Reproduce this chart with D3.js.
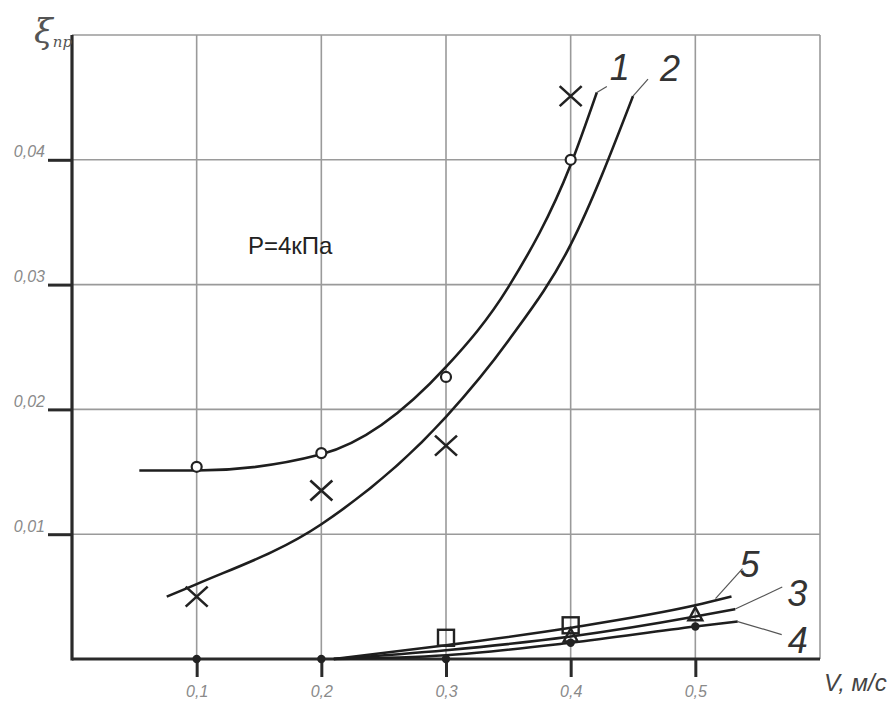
<!DOCTYPE html>
<html>
<head>
<meta charset="utf-8">
<script src="https://cdn.jsdelivr.net/npm/d3@7"></script>
<style>
body{margin:0;background:#fff;}
</style>
</head>
<body>
<div id="chart"></div>
<script>
// curves (smooth fits), P=4kPa
var curve1=[[0.054,0.0151],[0.1,0.0151],[0.2,0.0164],[0.3,0.0234],[0.35,0.0298],[0.4,0.0396],[0.421,0.0454]];
var curve2=[[0.076,0.0050],[0.1,0.0060],[0.2,0.0108],[0.3,0.0194],[0.35,0.0255],[0.4,0.0332],[0.45,0.0451]];
var curve3=[[0.21,0],[0.3,0.0007],[0.4,0.0018],[0.5,0.0034],[0.532,0.0040]];
var curve4=[[0.21,0],[0.3,0.0003],[0.4,0.0013],[0.5,0.0026],[0.534,0.0030]];
var curve5=[[0.21,0],[0.3,0.0011],[0.4,0.0025],[0.5,0.0043],[0.529,0.0050]];
// measured points
var pts1=[[0.1,0.0154],[0.2,0.0165],[0.3,0.0226],[0.4,0.0400]];      // open circles
var pts2=[[0.1,0.0050],[0.2,0.0135],[0.3,0.0171],[0.4,0.0451]];      // crosses
var pts3=[[0.4,0.0018],[0.5,0.0035]];                                // triangles
var pts4=[[0.1,0],[0.2,0],[0.3,0],[0.4,0.0013],[0.5,0.0026]];         // filled dots
var pts5=[[0.3,0.0017],[0.4,0.0027]];                                // squares
var xTicks=[0.1,0.2,0.3,0.4,0.5];
var yTicks=[0.01,0.02,0.03,0.04];
var xLabels=["0,1","0,2","0,3","0,4","0,5"];
var yLabels=["0,01","0,02","0,03","0,04"];

var margin={top:35,right:76,bottom:42,left:72},
w=896-margin.left-margin.right,
h=701-margin.top-margin.bottom;

var svg=d3.select("#chart").append("svg")
.attr("width",896).attr("height",701)
.append("g")
.attr("transform",`translate(${margin.left},${margin.top})`);

var x=d3.scaleLinear().domain([0,0.6]).range([0,w]);
var y=d3.scaleLinear().domain([0,0.05]).range([h,0]);

//grid
svg.append("g").selectAll("line").data(xTicks.concat([0.6])).enter().append("line")
.attr("x1",d=>x(d)).attr("x2",d=>x(d)).attr("y1",0).attr("y2",h)
.attr("stroke","#9a9a9a").attr("stroke-width",1.6);
svg.append("g").selectAll("line").data(yTicks.concat([0.05])).enter().append("line")
.attr("y1",d=>y(d)).attr("y2",d=>y(d)).attr("x1",0).attr("x2",w)
.attr("stroke","#9a9a9a").attr("stroke-width",1.6);

//axes
var xAxis=svg.append("g").attr("transform","translate(0,"+h+")")
.call(d3.axisBottom(x).tickValues(xTicks).tickSize(18).tickFormat((d,i)=>xLabels[i]));
var yAxis=svg.append("g")
.call(d3.axisLeft(y).tickValues(yTicks).tickSize(24).tickFormat((d,i)=>yLabels[i]));
[xAxis,yAxis].forEach(function(a){
a.select(".domain").remove();
a.selectAll(".tick line").attr("stroke","#2a2a2a").attr("stroke-width",3);
a.selectAll("text").attr("fill","#8a8a8a").attr("font-size",null)
.style("font-family","Liberation Sans Narrow, Liberation Sans")
.style("font-style","italic").style("font-size","16px");
});
svg.append("line").attr("x1",0).attr("x2",w).attr("y1",h).attr("y2",h)
.attr("stroke","#2a2a2a").attr("stroke-width",3.2);
svg.append("line").attr("x1",0).attr("x2",0).attr("y1",0).attr("y2",h+1.5)
.attr("stroke","#2a2a2a").attr("stroke-width",3.2);
xAxis.selectAll("text").attr("dy",null).attr("y",38);
yAxis.selectAll("text").attr("dy",null).attr("y",-3).attr("x",-27);

//curves
var line=d3.line().x(d=>x(d[0])).y(d=>y(d[1])).curve(d3.curveMonotoneX);
[curve1,curve2,curve3,curve4,curve5].forEach(function(c){
svg.append("path").datum(c).attr("d",line)
.attr("fill","none").attr("stroke","#1e1e1e").attr("stroke-width",2.6);
});

//markers
svg.selectAll(".c1").data(pts1).enter().append("circle")
.attr("cx",d=>x(d[0])).attr("cy",d=>y(d[1])).attr("r",5)
.attr("fill","#fff").attr("stroke","#222").attr("stroke-width",2.2);
svg.selectAll(".c2").data(pts2).enter().append("path")
.attr("transform",d=>`translate(${x(d[0])},${y(d[1])})`)
.attr("d","M-11,-10L11,10M-11,10L11,-10")
.attr("stroke","#222").attr("stroke-width",2.6).attr("fill","none");
svg.selectAll(".c5").data(pts5).enter().append("rect")
.attr("x",d=>x(d[0])-8).attr("y",d=>y(d[1])-8).attr("width",16).attr("height",16)
.attr("fill","none").attr("stroke","#222").attr("stroke-width",2.4);
svg.selectAll(".c3").data(pts3).enter().append("path")
.attr("transform",d=>`translate(${x(d[0])},${y(d[1])})`)
.attr("d","M0,-8L7,5L-7,5Z")
.attr("fill","none").attr("stroke","#222").attr("stroke-width",2.4);
svg.selectAll(".c4").data(pts4).enter().append("circle")
.attr("cx",d=>x(d[0])).attr("cy",d=>y(d[1])).attr("r",4.2)
.attr("fill","#222");

//curve labels with leader lines
var labels=[
{c:curve1,t:"1",lx:10,ly:-6,tx:23,ty:-22},
{c:curve2,t:"2",lx:15,ly:-17,tx:37,ty:-25},
{c:curve5,t:"5",lx:11,ly:-28,tx:18,ty:-29},
{c:curve3,t:"3",lx:47,ly:-22,tx:62,ty:-13},
{c:curve4,t:"4",lx:44,ly:13,tx:60,ty:22}
];
labels.forEach(function(l){
var e=l.c[l.c.length-1],ex=x(e[0]),ey=y(e[1]);
svg.append("line").attr("x1",ex-(l.t=="5"?16:0)).attr("y1",ey+(l.t=="5"?2:0))
.attr("x2",ex+l.lx).attr("y2",ey+l.ly)
.attr("stroke","#555").attr("stroke-width",1.2);
svg.append("text").attr("x",ex+l.tx).attr("y",ey+l.ty).text(l.t)
.style("font-family","Liberation Sans").style("font-style","italic")
.style("font-size","36px").attr("fill","#333").attr("text-anchor","middle")
.attr("dominant-baseline","middle");
});

//texts
svg.append("text").attr("x",176).attr("y",219).text("P=4кПа")
.style("font-family","Liberation Sans").style("font-size","24px").attr("fill","#222");
svg.append("text").attr("x",w+4).attr("y",h+32).text("V, м/с")
.style("font-family","Liberation Sans").style("font-style","italic")
.style("font-size","24px").attr("fill","#444");
var yl=svg.append("text").attr("x",-38).attr("y",8)
.style("font-family","DejaVu Serif").style("font-style","italic").attr("fill","#555");
yl.append("tspan").text("ξ").style("font-size","34px");
yl.append("tspan").text("пр").style("font-size","15px").attr("dy",4);
</script>
</body>
</html>
